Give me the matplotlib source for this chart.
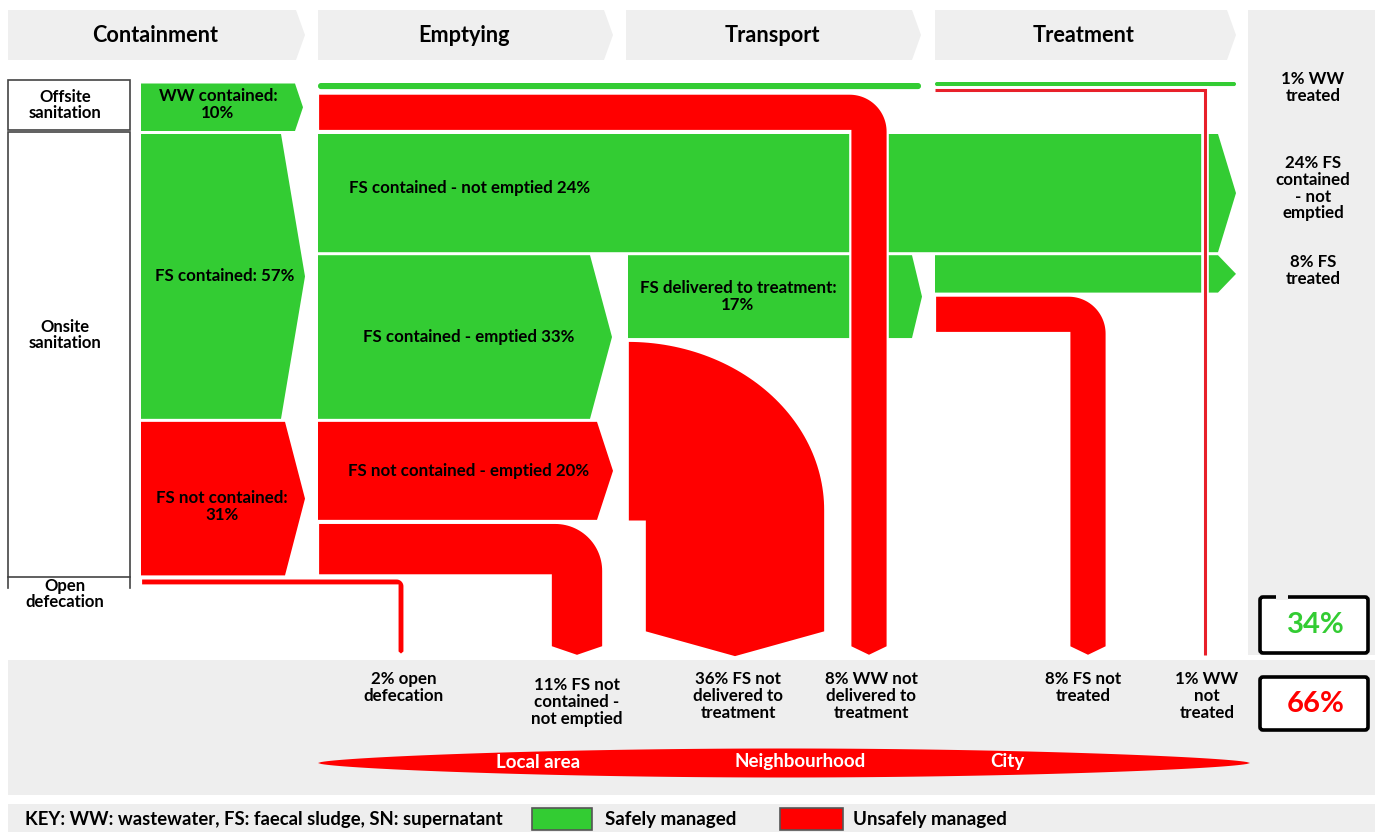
"""Faecal sludge flow diagram (SFD) recreated with matplotlib patches."""
import numpy as np
import matplotlib
matplotlib.use("Agg")
import matplotlib.pyplot as plt
import matplotlib.patheffects as pe
from matplotlib.patches import Polygon, Rectangle, FancyBboxPatch

plt.rcParams["font.family"] = ["Lato", "DejaVu Sans"]

# ---- data: share of population (%) ----
stages = ["Containment", "Emptying", "Transport", "Treatment"]
systems = ["Offsite\nsanitation", "Onsite\nsanitation", "Open\ndefecation"]
contain_pct = [10, 57, 31, 2]        # WW contained, FS contained, FS not contained, open defecation
empty_pct = [2, 8, 24, 33, 20, 11]   # WW delivered, WW not delivered, FS not emptied, FS emptied, FS nc emptied, FS nc not emptied
transport_pct = [17, 36]             # FS delivered, FS not delivered
treat_pct = [1, 1, 8, 8]             # WW treated, WW not treated, FS treated, FS not treated
zones = ["Local area", "Neighbourhood", "City"]
summary_pct = [34, 66]               # safely / unsafely managed

# ---- layout (pixels) ----
W, H = 1378, 832
PX = 5.05      # pixels per percent
Y0 = 82
G = 1.5        # half gap between bands
GREEN = "#33cc33"
RED = "#ff0000"
GREY = "#eeeeee"
HEAD = [(8, 296, 305), (318, 604, 613), (626, 912, 921), (935, 1227, 1236)]
FS = 12.2      # label font size
LS = 1.07      # label line spacing

fig = plt.figure(figsize=(W / 100, H / 100), dpi=100)
ax = fig.add_axes([0, 0, 1, 1])
ax.set_xlim(0, W)
ax.set_ylim(H, 0)
ax.axis("off")


def chevron(x0, x1, xtip, y0, y1, color, z=2, **kw):
    ym = (y0 + y1) / 2
    ax.add_patch(Polygon([(x0, y0), (x1, y0), (xtip, ym), (x1, y1), (x0, y1)],
                         closed=True, fc=color, ec="none", zorder=z, **kw))


def bend(x0, y0, y1, xc, w, r, yend=647, tip=9, z=3):
    """horizontal band y0..y1 from x0 turning down into a vertical band centred at xc"""
    xl, xr = xc - w / 2 + G, xc + w / 2 - G
    t = np.linspace(0, np.pi / 2, 30)
    pts = [(x0, y0)]
    pts += list(zip(xr - r + r * np.sin(t), y0 + r - r * np.cos(t)))
    pts += [(xr, yend), (xc, yend + tip), (xl, yend), (xl, y1), (x0, y1)]
    ax.add_patch(Polygon(pts, closed=True, fc=RED, ec="white", lw=1.6, zorder=z,
                         joinstyle="miter"))


def label(x, y, s, size=FS, color="black", **kw):
    ax.text(x, y, s, ha="center", va="center", fontsize=size, fontweight="bold",
            color=color, linespacing=LS, **kw)


# backgrounds
for (x0, x1, xt), name in zip(HEAD, stages):
    chevron(x0, x1, xt, 10, 60, "#efefef", z=1)
    label((x0 + x1) / 2 + 3, 35, name, size=15.6)
ax.add_patch(Rectangle((1248, 10), 127, 645, fc=GREY, ec="none", zorder=0))
ax.add_patch(Rectangle((8, 660), 1367, 135, fc=GREY, ec="none", zorder=0))
ax.add_patch(Rectangle((8, 804), 1367, 28, fc=GREY, ec="none", zorder=0))

# system labels on the left
cy = Y0 + PX * np.concatenate([[0], np.cumsum(contain_pct)])
ax.add_patch(Rectangle((8, 80), 122, 50, fc="white", ec="#444444", lw=1.2, zorder=1))
ax.add_patch(Rectangle((8, 132), 122, cy[3] - 132, fc="white", ec="#444444", lw=1.2, zorder=1))
ax.plot([8, 8], [cy[3], cy[3] + 11], color="#444444", lw=1.2, zorder=1)
ax.plot([130, 130], [cy[3], cy[3] + 11], color="#444444", lw=1.2, zorder=1)
label(65, 105, systems[0], size=12)
label(65, 335, systems[1], size=12)
label(65, 594, systems[2], size=12)

# containment
chevron(141, 295, 303, cy[0] + G, cy[1] - G, GREEN)
chevron(141, 281, 305, cy[1] + G, cy[2] - G, GREEN)
chevron(141, 285, 305, cy[2] + G, cy[3] - G, RED)
bend(141, cy[3] + G, cy[4] - G, 401, contain_pct[3] * PX, 8, yend=652, tip=3)
label(218, (cy[0] + cy[1]) / 2 - 3, f"WW contained:\n{contain_pct[0]}%")
label(225, (cy[1] + cy[2]) / 2, f"FS contained: {contain_pct[1]}%")
label(222, (cy[2] + cy[3]) / 2 + 8, f"FS not contained:\n{contain_pct[2]}%")

# emptying
ey = Y0 + PX * np.concatenate([[0], np.cumsum(empty_pct)])
ax.add_patch(FancyBboxPatch((318, ey[0] + 1), 603, ey[1] - ey[0] - 4,
                            boxstyle="round,pad=0,rounding_size=3", fc=GREEN, ec="none", zorder=2))
chevron(318, 1218, 1236, ey[2] + G, ey[3] - G, GREEN)
chevron(318, 590, 612, ey[3] + G, ey[4] - G, GREEN)
chevron(318, 597, 613, ey[4] + G, ey[5] - G, RED)
bend(318, ey[5] + G, ey[6] - G, 577, empty_pct[5] * PX, 48)
label(470, (ey[2] + ey[3]) / 2 - 5, f"FS contained - not emptied {empty_pct[2]}%")
label(469, (ey[3] + ey[4]) / 2, f"FS contained - emptied {empty_pct[3]}%")
label(469, (ey[4] + ey[5]) / 2, f"FS not contained - emptied {empty_pct[4]}%")

# transport
td = ey[3] + transport_pct[0] * PX
chevron(628, 912, 922, ey[3] + G, td - G, GREEN)
label(738, (ey[3] + td) / 2, f"FS delivered to treatment:\n{transport_pct[0]}%")
xr36, yc36 = 825, 510
t = np.linspace(0, np.pi / 2, 60)
pts = [(628, td + G)]
pts += list(zip(628 + (xr36 - 628) * np.sin(t), yc36 - (yc36 - td - G) * np.cos(t)))
pts += [(xr36, 632), ((645 + xr36) / 2, 657), (645, 632), (645, ey[5]), (628, ey[5])]
ax.add_patch(Polygon(pts, closed=True, fc=RED, ec="white", lw=1.2, zorder=3))

# treatment
ax.add_patch(FancyBboxPatch((935, Y0), 301, treat_pct[0] * PX - 1,
                            boxstyle="round,pad=0,rounding_size=2", fc=GREEN, ec="none", zorder=2))
tt = ey[3] + treat_pct[2] * PX
chevron(935, 1218, 1236, ey[3] + G, tt - G, GREEN)
bend(935, tt + G, tt + treat_pct[3] * PX - G, 1088, treat_pct[3] * PX, 38)

# wastewater not delivered (drawn over the green bands)
bend(318, ey[1] + G, ey[2] - G, 869, empty_pct[1] * PX, 38, z=4)

# wastewater not treated: thin line
yl = Y0 + (treat_pct[0] + treat_pct[1] / 2) * PX
ax.plot([935, 1205, 1205], [yl, yl, 655], color="#e8202a", lw=2.2, zorder=5,
        solid_joinstyle="miter", solid_capstyle="butt",
        path_effects=[pe.Stroke(linewidth=5.5, foreground="white"), pe.Normal()])

# outcomes on the right
label(1313, Y0 + treat_pct[0] * PX / 2 + 3, f"{treat_pct[0]}% WW\ntreated")
label(1313, (ey[2] + ey[3]) / 2 - 5, f"{empty_pct[2]}% FS\ncontained\n- not\nemptied")
label(1313, (ey[3] + tt) / 2 - 3, f"{treat_pct[2]}% FS\ntreated")

bottom = [
    (404, 671, f"{contain_pct[3]}% open\ndefecation"),
    (577, 677, f"{empty_pct[5]}% FS not\ncontained -\nnot emptied"),
    (738, 671, f"{transport_pct[1]}% FS not\ndelivered to\ntreatment"),
    (871, 671, f"{empty_pct[1]}% WW not\ndelivered to\ntreatment"),
    (1083, 671, f"{treat_pct[3]}% FS not\ntreated"),
    (1207, 671, f"{treat_pct[1]}% WW\nnot\ntreated"),
]
for x, y, s in bottom:
    ax.text(x, y, s, ha="center", va="top", fontsize=FS, fontweight="bold",
            linespacing=LS)

# summary boxes
for (y0, y1), pct, col in zip([(597, 653), (677, 730)], summary_pct, [GREEN, RED]):
    ax.add_patch(FancyBboxPatch((1260, y0), 108, y1 - y0,
                                boxstyle="round,pad=0,rounding_size=3",
                                fc="white", ec="black", lw=2.6, zorder=3))
    label(1316, (y0 + y1) / 2, f"{pct}%", size=21, color=col, zorder=4)
ax.add_patch(Rectangle((1276, 594), 12, 6, fc=GREY, ec="none", zorder=4))

# zones lens
t = np.linspace(0, 1, 300)
xs = 318 + t * (1250 - 318)
half = 14.5 * np.sin(np.pi * t) ** 0.6
ax.fill(np.r_[xs, xs[::-1]], np.r_[763 - half, (763 + half)[::-1]], color=RED, lw=0, zorder=2)
for x, z in zip([538, 800, 1007], zones):
    label(x, 762, z, size=13.5, color="white", zorder=3)

# key
ax.text(25, 819, "KEY: WW: wastewater, FS: faecal sludge, SN: supernatant",
        ha="left", va="center", fontsize=13.3, fontweight="bold")
ax.add_patch(Rectangle((532, 808), 60, 22, fc=GREEN, ec="#555555", lw=1.2, zorder=2))
ax.text(605, 819, "Safely managed", ha="left", va="center", fontsize=13.5, fontweight="bold")
ax.add_patch(Rectangle((780, 808), 63, 22, fc=RED, ec="#555555", lw=1.2, zorder=2))
ax.text(853, 819, "Unsafely managed", ha="left", va="center", fontsize=13.5, fontweight="bold")

fig.savefig("out.png", dpi=100, facecolor="white")
